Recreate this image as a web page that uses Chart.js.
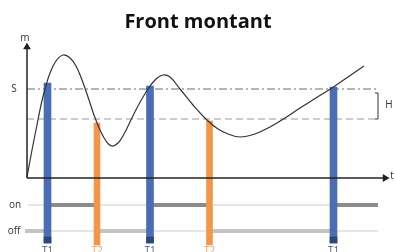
<!DOCTYPE html>
<html>
<head>
<meta charset="utf-8">
<script src="https://cdn.jsdelivr.net/npm/chart.js@4"></script>
<style>
  html, body { margin:0; padding:0; background:#fff; }
  #wrap { width:396px; height:252px; }
</style>
</head>
<body>
<div id="wrap"><canvas id="chart"></canvas></div>
<script>
// curve m(t)
const curveT = [0, 0.5, 1.0, 1.4, 1.8, 2.3, 2.9, 3.6, 4.3, 4.9, 5.5, 6.1, 6.7, 7.3, 7.9, 8.5, 9.1, 9.7, 10.3, 11.1, 12.1, 12.9, 13.6, 14.3, 15.3, 16.6, 18.0, 19.1, 20.1, 21.3, 22.8, 24.3, 25.8, 27.3, 28.9, 30.5, 32.1, 33.7];
const curveM = [0.1, 2.8, 5.3, 7.3, 8.9, 10.5, 11.7, 12.3, 12.0, 11.2, 9.8, 8.1, 6.3, 4.8, 3.7, 3.2, 3.5, 4.4, 5.6, 7.2, 8.9, 9.9, 10.3, 10.1, 8.9, 7.3, 5.8, 4.9, 4.4, 4.1, 4.4, 5.1, 6.0, 7.0, 8.0, 9.0, 10.1, 11.2];

// thresholds
const S = 8.9;
const SH = 5.9;
const lineEnd = 35.1;

// switching instants
const t1 = [2.05, 12.3, 30.65];
const t1Top = [9.5, 9.2, 9.1];
const t2 = [7.0, 18.25];
const t2Top = [5.5, 5.7];

// relay state
const ON = -2.7, OFF = -5.3;
const onStart = [2.3, 12.6, 31.0];
const onEnd = [7.0, 18.2, 35.1];
const offStart = [-0.2, 7.3, 18.5];
const offEnd = [1.8, 12.0, 30.3];

const BLUE = '#4a6db4', ORANGE = '#f4964a';

function segs(starts, ends, y){
  const out = [];
  starts.forEach((s,i)=>{ out.push({x:s,y}); out.push({x:ends[i],y}); out.push({x:ends[i],y:null}); });
  return out;
}

const labelsPlugin = {
  id:'labels',
  afterDatasetsDraw(chart){
    const c = chart.ctx, x = chart.scales.x, y = chart.scales.y;
    const txt = (s, tx, ty, color, font, align, base) => {
      c.save(); c.fillStyle = color; c.font = font; c.textAlign = align||'center'; c.textBaseline = base||'middle';
      c.fillText(s, x.getPixelForValue(tx), y.getPixelForValue(ty)); c.restore();
    };
    const f = '10px "Open Sans", sans-serif';
    txt('m', -0.2, 14.0, '#333', f);
    txt('S', -1.3, S, '#333', f);
    txt('t', 36.5, 0.2, '#333', f);
    txt('H', 36.2, 7.3, '#333', f);
    txt('on', -1.2, ON, '#333', f);
    txt('off', -1.3, OFF, '#333', f);
    t1.forEach(t=>txt('T1', t, -6.8, '#4a5d85', f, 'center', 'top'));
    t2.forEach(t=>txt('T2', t, -6.8, '#f4a060', f, 'center', 'top'));
    // H bracket
    const bx = x.getPixelForValue(lineEnd), b1 = y.getPixelForValue(8.5), b2 = y.getPixelForValue(SH);
    c.save(); c.strokeStyle = '#333'; c.lineWidth = 1;
    c.beginPath(); c.moveTo(bx-3, b1); c.lineTo(bx, b1); c.lineTo(bx, b2); c.lineTo(bx-3, b2); c.stroke();
    c.restore();
  }
};

new Chart(document.getElementById('chart'), {
  type:'line',
  data:{
    datasets:[
      // axes
      { data:[{x:0,y:0},{x:0,y:13.1}], borderColor:'#222', backgroundColor:'#222', borderWidth:1.5,
        pointRadius:[0,3], pointStyle:'triangle', order:1 },
      { data:[{x:0,y:0},{x:35.8,y:0}], borderColor:'#222', backgroundColor:'#222', borderWidth:1.5,
        pointRadius:[0,3], pointStyle:'triangle', pointRotation:90, order:1 },
      // curve
      { data:curveT.map((t,i)=>({x:t,y:curveM[i]})), borderColor:'#333', borderWidth:1.2,
        pointRadius:0, tension:0.4, order:2 },
      // T1 / T2 bars
      { type:'bar', data:t1.map((t,i)=>({x:t,y:[-6.5,t1Top[i]]})), backgroundColor:BLUE, barThickness:7, grouped:false, order:3 },
      { type:'bar', data:t1.map(t=>({x:t,y:[-6.5,-5.9]})), backgroundColor:'#2e4679', barThickness:7, grouped:false, order:2.5 },
      { type:'bar', data:t2.map((t,i)=>({x:t,y:[-6.7,t2Top[i]]})), backgroundColor:ORANGE, barThickness:6, grouped:false, order:3 },
      // on/off thick segments
      { data:segs(onStart, onEnd, ON), borderColor:'#8c8c8c', borderWidth:4, pointRadius:0, spanGaps:false, order:4 },
      { data:segs(offStart, offEnd, OFF), borderColor:'#c4c4c4', borderWidth:4, pointRadius:0, spanGaps:false, order:4 },
      // thin on/off guides
      { data:[{x:0.1,y:ON},{x:lineEnd,y:ON}], borderColor:'#dedede', borderWidth:1.5, pointRadius:0, order:5 },
      { data:[{x:0.1,y:OFF},{x:lineEnd,y:OFF}], borderColor:'#dedede', borderWidth:1.5, pointRadius:0, order:5 },
      // thresholds
      { data:[{x:0,y:S},{x:lineEnd,y:S}], borderColor:'#6e6e6e', borderWidth:1.2, borderDash:[8,3,2,3], pointRadius:0, order:5 },
      { data:[{x:0,y:SH},{x:lineEnd,y:SH}], borderColor:'#9a9a9a', borderWidth:1.2, borderDash:[7,4], pointRadius:0, order:5 }
    ]
  },
  options:{
    responsive:true, maintainAspectRatio:false, animation:false,
    layout:{ padding:0, autoPadding:false },
    plugins:{
      legend:{ display:false }, tooltip:{ enabled:false },
      title:{ display:true, text:'Front montant', color:'#111',
        font:{ family:'"Open Sans", sans-serif', size:20, weight:'bold' }, padding:{ top:10, bottom:0 } }
    },
    scales:{
      x:{ type:'linear', min:-2.7, max:36.9, display:false, offset:false },
      y:{ type:'linear', min:-7.4, max:14.4, display:false }
    }
  },
  plugins:[labelsPlugin]
});
</script>
</body>
</html>
